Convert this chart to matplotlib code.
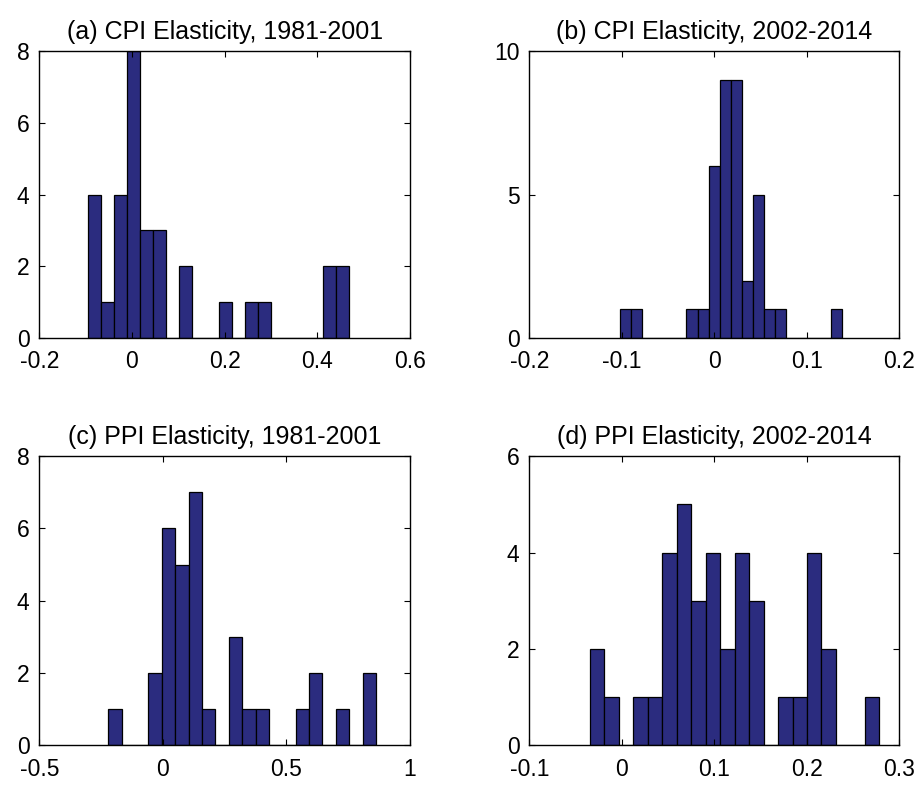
import numpy as np
import matplotlib
matplotlib.use('Agg')
import matplotlib.pyplot as plt

plt.rcParams['font.family'] = ['Liberation Sans', 'DejaVu Sans']

# histogram data: 20 equal bins between lo and hi, counts
titles = ['(a) CPI Elasticity, 1981-2001', '(b) CPI Elasticity, 2002-2014',
          '(c) PPI Elasticity, 1981-2001', '(d) PPI Elasticity, 2002-2014']

lo_a, hi_a = -0.095, 0.469
counts_a = [4, 1, 4, 8, 3, 3, 0, 2, 0, 0, 1, 0, 1, 1, 0, 0, 0, 0, 2, 2]

lo_b, hi_b = -0.102, 0.1377
counts_b = [1, 1, 0, 0, 0, 0, 1, 1, 6, 9, 9, 2, 5, 1, 1, 0, 0, 0, 0, 1]

lo_c, hi_c = -0.221, 0.8625
counts_c = [1, 0, 0, 2, 6, 5, 7, 1, 0, 3, 1, 1, 0, 0, 1, 2, 0, 1, 0, 2]

lo_d, hi_d = -0.0344, 0.2784
counts_d = [2, 1, 0, 1, 1, 4, 5, 3, 4, 2, 4, 3, 0, 1, 1, 4, 2, 0, 0, 1]

xlims = [(-0.2, 0.6), (-0.2, 0.2), (-0.5, 1.0), (-0.1, 0.3)]
xticks = [[-0.2, 0, 0.2, 0.4, 0.6], [-0.2, -0.1, 0, 0.1, 0.2],
          [-0.5, 0, 0.5, 1], [-0.1, 0, 0.1, 0.2, 0.3]]
xticklabels = [['-0.2', '0', '0.2', '0.4', '0.6'], ['-0.2', '-0.1', '0', '0.1', '0.2'],
               ['-0.5', '0', '0.5', '1'], ['-0.1', '0', '0.1', '0.2', '0.3']]
ylims = [8, 10, 8, 6]
yticks = [[0, 2, 4, 6, 8], [0, 5, 10], [0, 2, 4, 6, 8], [0, 2, 4, 6]]

data = [(lo_a, hi_a, counts_a), (lo_b, hi_b, counts_b),
        (lo_c, hi_c, counts_c), (lo_d, hi_d, counts_d)]

W, H = 922, 788
fig = plt.figure(figsize=(W / 100, H / 100), dpi=100)

boxes = [(39.3, 51, 410, 338), (529.3, 51, 899.3, 338),
         (39.3, 456.3, 410, 745), (529.3, 456.3, 899.3, 745)]

for i in range(4):
    l, t, r, b = boxes[i]
    ax = fig.add_axes([l / W, 1 - b / H, (r - l) / W, (b - t) / H])
    lo, hi, counts = data[i]
    edges = np.linspace(lo, hi, len(counts) + 1)
    centers = (edges[:-1] + edges[1:]) / 2
    ax.hist(centers, bins=edges, weights=counts, color='#2b2c7f',
            edgecolor='black', linewidth=0.9)
    ax.set_xlim(*xlims[i])
    ax.set_ylim(0, ylims[i])
    ax.set_xticks(xticks[i])
    ax.set_xticklabels(xticklabels[i])
    ax.set_yticks(yticks[i])
    ax.tick_params(direction='in', top=True, right=True, length=4, width=0.8,
                   labelsize=16.5, colors='black')
    ax.tick_params(axis='x', pad=9)
    ax.tick_params(axis='y', pad=7)
    for s in ax.spines.values():
        s.set_linewidth(1.0)
    ax.set_title(titles[i], fontsize=18, pad=9)

fig.savefig('out.png', dpi=100)
